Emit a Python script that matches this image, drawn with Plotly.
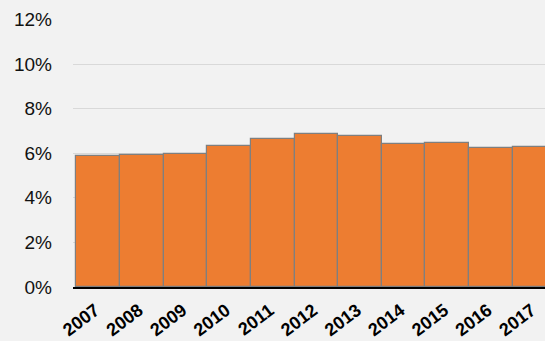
import plotly.graph_objects as go

# Annual share, percent
years = ["2007", "2008", "2009", "2010", "2011", "2012",
         "2013", "2014", "2015", "2016", "2017"]
share_pct = [5.86, 5.90, 5.95, 6.31, 6.62, 6.85, 6.76, 6.41, 6.46, 6.22, 6.29]

y_ticks = [0, 2, 4, 6, 8, 10, 12]
y_tick_text = [f"{v}%" for v in y_ticks]

fig = go.Figure(
    go.Bar(
        x=years,
        y=share_pct,
        marker=dict(color="#ED7D31", line=dict(color="#7f7f7f", width=1.2)),
        hoverinfo="skip",
    )
)

fig.update_layout(
    width=545,
    height=341,
    margin=dict(l=73, r=0, t=19, b=54),
    paper_bgcolor="#f2f2f2",
    plot_bgcolor="#f2f2f2",
    bargap=0,
    showlegend=False,
    font=dict(family="Liberation Sans, Arial, sans-serif", color="#111111"),
)

fig.update_xaxes(
    type="category",
    range=[-0.578, 10.24],
    automargin=False,
    showgrid=False,
    showline=True,
    linecolor="#000000",
    linewidth=2,
    tickangle=-37,
    tickfont=dict(size=18, family="Liberation Sans, Arial, sans-serif", color="#000000"),
    tickprefix="<b>",
    ticksuffix="</b>",
    ticks="",
    ticklabelstandoff=4,
    ticklabelshift=-3,
)

fig.update_yaxes(
    range=[0, 12.02],
    automargin=False,
    tickvals=y_ticks,
    ticktext=y_tick_text,
    showgrid=True,
    gridcolor="#d9d9d9",
    gridwidth=1,
    zeroline=False,
    showline=False,
    ticks="",
    ticklabelstandoff=20,
    tickfont=dict(size=19, family="Liberation Sans, Arial, sans-serif", color="#111111"),
)

fig.write_html("out.html")
